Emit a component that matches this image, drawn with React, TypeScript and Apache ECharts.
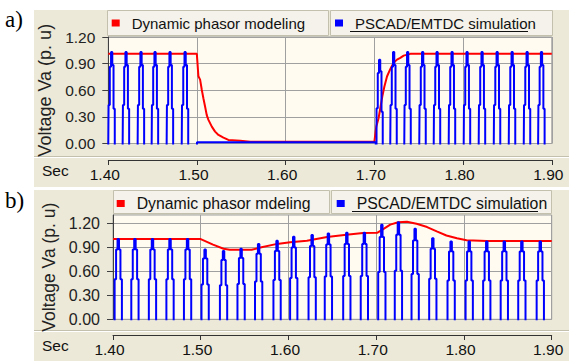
import React, { useEffect, useRef } from "react";
import * as echarts from "echarts";

// ---------- Data ----------
// Panel a) dynamic phasor model (red): time (s) / voltage (p.u)
const RED_A_T = [1.4, 1.4998, 1.5016, 1.5035, 1.5054, 1.5072, 1.5091, 1.511, 1.5129, 1.5167, 1.5204, 1.5242, 1.5298, 1.5354, 1.5487, 1.56, 1.7, 1.7021, 1.7047, 1.7067, 1.7089, 1.7112, 1.7142, 1.718, 1.7217, 1.7255, 1.7292, 1.733, 1.7405, 1.9];
const RED_A_V = [1.01, 1.01, 0.757, 0.72, 0.606, 0.51, 0.417, 0.32, 0.266, 0.19, 0.134, 0.096, 0.066, 0.04, 0.032, 0.02, 0.02, 0.19, 0.285, 0.4, 0.53, 0.64, 0.755, 0.84, 0.91, 0.945, 0.965, 0.99, 1.01, 1.01];

// Panel a) PSCAD/EMTDC (blue): peak time and peak value of every visible half-wave
const BLUE_A_PEAK_T = [1.4038, 1.42, 1.4369, 1.4527, 1.4696, 1.4866, 1.7059, 1.7217, 1.7375, 1.7544, 1.7707, 1.7876, 1.8045, 1.8214, 1.8384, 1.8553, 1.8722, 1.8884];
const BLUE_A_PEAK_V = [1.03, 1.03, 1.03, 1.03, 1.03, 1.03, 0.945, 1.03, 1.03, 1.03, 1.03, 1.03, 1.03, 1.03, 1.03, 1.03, 1.03, 1.03];
// sampled half-wave shape of panel a (offset in ms from the peak, level relative to the peak)
const BLUE_A_SHAPE_MS = [-4.2, -2.8, -1.4, 0, 1.4, 2.8, 4.2, 8.3];
const BLUE_A_SHAPE_LV = [-0.5, 0.42, 0.84, 1.0, 0.86, 0.38, -0.5, -1.0];
// fault interval of panel a where the blue trace lies on zero
const BLUE_A_FAULT_T = [1.4995, 1.5005, 1.7015];
const BLUE_A_FAULT_V = [-1, 0.015, 0.015];

// Panel b) dynamic phasor model (red)
const RED_B_T = [1.4, 1.5, 1.514, 1.526, 1.533, 1.558, 1.568, 1.587, 1.602, 1.621, 1.644, 1.666, 1.685, 1.701, 1.708, 1.716, 1.725, 1.735, 1.746, 1.758, 1.769, 1.78, 1.792, 1.803, 1.826, 1.9];
const RED_B_V = [1.0, 1.0, 0.93, 0.88, 0.866, 0.866, 0.895, 0.94, 0.96, 0.98, 1.025, 1.054, 1.075, 1.078, 1.125, 1.18, 1.21, 1.215, 1.19, 1.15, 1.095, 1.045, 1.01, 0.985, 0.975, 0.975];

// Panel b) PSCAD/EMTDC (blue)
const BLUE_B_PEAK_T = [1.406, 1.425, 1.445, 1.465, 1.485, 1.505, 1.526, 1.546, 1.566, 1.587, 1.606, 1.627, 1.6455, 1.6665, 1.6865, 1.7064, 1.7253, 1.7444, 1.7645, 1.7854, 1.806, 1.826, 1.846, 1.866, 1.887];
const BLUE_B_PEAK_V = [1.0, 1.0, 1.0, 1.0, 1.0, 0.87, 0.85, 0.88, 0.94, 0.98, 1.03, 1.05, 1.07, 1.08, 1.08, 1.18, 1.21, 1.13, 1.01, 0.97, 0.97, 0.97, 0.97, 0.97, 0.97];
const BLUE_B_SHAPE_MS = [-5.0, -3.3, -1.65, 0, 1.65, 3.3, 5.0, 10.0];
const BLUE_B_SHAPE_LV = [-0.5, 0.5, 0.87, 1.0, 0.87, 0.5, -0.5, -1.0];

// Axis ticks
const X_TICKS = [1.4, 1.5, 1.6, 1.7, 1.8, 1.9];
const Y_TICKS_A = [0, 0.3, 0.6, 0.9, 1.2];
const Y_TICKS_B = [0, 0.3, 0.6, 0.9, 1.2];

const NAME_RED_A = "Dynamic phasor modeling";
const NAME_RED_B = "Dynamic phasor mdeling";
const NAME_BLUE = "PSCAD/EMTDC simulation";
const Y_NAME = "Voltage Va (p. u)";

// ---------- helpers ----------
const zip = (t: number[], v: number[]) => t.map((x, i) => [x, v[i]]);

function buildPulses(peakT: number[], peakV: number[], shapeMs: number[], shapeLv: number[]) {
  const pts: number[][] = [];
  peakT.forEach((t, i) => {
    shapeMs.forEach((ms, j) => pts.push([t + ms / 1000, peakV[i] * shapeLv[j]]));
  });
  return pts;
}

const FONT = "Liberation Sans, Arial, sans-serif";
const GRAY = "#ECE9D8";
const CELL = "#F4F2EA";
const PLOT_BG = "#FFFBF0";
const GRID_LINE = "#A0A0A0";

export default function App() {
  const ref = useRef<HTMLDivElement>(null);

  useEffect(() => {
    if (!ref.current) return;
    const chart = echarts.init(ref.current, undefined, { renderer: "svg" });

    const redA = zip(RED_A_T, RED_A_V);
    const redB = zip(RED_B_T, RED_B_V);
    const blueAll = buildPulses(BLUE_A_PEAK_T, BLUE_A_PEAK_V, BLUE_A_SHAPE_MS, BLUE_A_SHAPE_LV)
      .concat(zip(BLUE_A_FAULT_T, BLUE_A_FAULT_V));
    blueAll.sort((p, q) => p[0] - q[0]);
    const blueB = buildPulses(BLUE_B_PEAK_T, BLUE_B_PEAK_V, BLUE_B_SHAPE_MS, BLUE_B_SHAPE_LV);

    const xAxisBase = (grid: number, offset: number, fs: number) => ({
      gridIndex: grid,
      type: "value",
      min: 1.4,
      max: 1.9,
      interval: 0.1,
      offset,
      axisLine: { show: true, onZero: false, lineStyle: { color: "#333", width: 1 } },
      axisTick: { show: true, length: 5, lineStyle: { color: "#333" }, customValues: X_TICKS },
      axisLabel: {
        customValues: X_TICKS,
        formatter: (v: number) => v.toFixed(2),
        fontSize: fs,
        fontFamily: FONT,
        color: "#111",
        margin: 6,
        padding: [0, 7, 0, 0],
      },
      splitLine: { show: true, lineStyle: { color: GRID_LINE, width: 1 } },
    });

    const yAxisBase = (grid: number, max: number, ticks: number[], fs: number, gap: number) => ({
      gridIndex: grid,
      type: "value",
      min: 0,
      max,
      interval: 0.3,
      name: Y_NAME,
      nameLocation: "middle",
      nameGap: gap,
      nameTextStyle: { fontSize: grid === 0 ? 18 : 17.5, fontFamily: FONT, color: "#222" },
      axisLine: { show: true, onZero: false, lineStyle: { color: "#404040", width: 1 } },
      axisTick: { show: true, length: 6, lineStyle: { color: "#404040" }, customValues: ticks },
      axisLabel: {
        customValues: ticks,
        formatter: (v: number) => v.toFixed(2),
        fontSize: fs,
        fontFamily: FONT,
        color: "#222",
        margin: 13,
      },
      splitLine: { show: true, lineStyle: { color: GRID_LINE, width: 1 } },
    });

    const legendBase = (name: string, left: number, top: number, fs: number) => ({
      data: [name],
      left,
      top,
      padding: 0,
      icon: "rect",
      itemWidth: 8,
      itemHeight: 7,
      selectedMode: false,
      textStyle: { fontSize: fs, fontFamily: FONT, color: "#111", padding: [0, 0, 0, 7] },
    });

    const option: any = {
      animation: false,
      backgroundColor: "#ffffff",
      grid: [
        { left: 108.3, top: 37, width: 443.5, height: 106.5, show: true, backgroundColor: PLOT_BG, borderColor: GRID_LINE, borderWidth: 1 },
        { left: 113, top: 215, width: 438.7, height: 104.3, show: true, backgroundColor: PLOT_BG, borderColor: GRID_LINE, borderWidth: 1 },
      ],
      xAxis: [xAxisBase(0, 16.5, 15.5), xAxisBase(1, 15.7, 15.5)],
      yAxis: [yAxisBase(0, 1.2, Y_TICKS_A, 15.5, 50), yAxisBase(1, 1.3, Y_TICKS_B, 16, 54)],
      legend: [
        legendBase(NAME_RED_A, 111.7, 15.5, 15),
        legendBase(NAME_BLUE, 335, 15.5, 15),
        legendBase(NAME_RED_B, 116.7, 195.5, 15.8),
        legendBase(NAME_BLUE, 336.7, 195.5, 15.8),
      ],
      series: [
        {
          type: "line", name: NAME_RED_A, xAxisIndex: 0, yAxisIndex: 0, data: redA,
          symbol: "none", lineStyle: { color: "#FF0000", width: 2 }, itemStyle: { color: "#FF0000" }, z: 2,
        },
        {
          type: "line", name: NAME_BLUE, xAxisIndex: 0, yAxisIndex: 0, data: blueAll, step: "middle",
          symbol: "none", lineStyle: { color: "#0000FF", width: 2 }, itemStyle: { color: "#0000FF" }, z: 3,
        },
        {
          type: "line", name: NAME_RED_B, xAxisIndex: 1, yAxisIndex: 1, data: redB,
          symbol: "none", lineStyle: { color: "#FF0000", width: 2 }, itemStyle: { color: "#FF0000" }, z: 2,
        },
        {
          type: "line", name: NAME_BLUE, xAxisIndex: 1, yAxisIndex: 1, data: blueB, step: "middle",
          symbol: "none", lineStyle: { color: "#0000FF", width: 2 }, itemStyle: { color: "#0000FF" }, z: 3,
        },
      ],
      graphic: [
        // panel backgrounds
        { type: "rect", z: -20, shape: { x: 34, y: 10, width: 535, height: 177 }, style: { fill: GRAY } },
        { type: "rect", z: -20, shape: { x: 34, y: 190, width: 535, height: 171 }, style: { fill: GRAY } },
        // legend cells a
        { type: "rect", z: -15, shape: { x: 107.5, y: 10.5, width: 221, height: 25 }, style: { fill: CELL, stroke: "#C4C0AE", lineWidth: 1 } },
        { type: "rect", z: -15, shape: { x: 330.5, y: 10.5, width: 222, height: 25 }, style: { fill: CELL, stroke: "#C4C0AE", lineWidth: 1 } },
        // legend cells b
        { type: "rect", z: -15, shape: { x: 113.5, y: 190.5, width: 216, height: 23 }, style: { fill: CELL, stroke: "#C4C0AE", lineWidth: 1 } },
        { type: "rect", z: -15, shape: { x: 331.5, y: 190.5, width: 220, height: 23 }, style: { fill: CELL, stroke: "#C4C0AE", lineWidth: 1 } },
        // underlines
        { type: "line", z: 5, shape: { x1: 350, y1: 31.5, x2: 528, y2: 31.5 }, style: { stroke: "#111", lineWidth: 1 } },
        { type: "line", z: 5, shape: { x1: 352, y1: 211.5, x2: 538, y2: 211.5 }, style: { stroke: "#111", lineWidth: 1 } },
        // separators above the x-axis bars
        { type: "line", z: -15, shape: { x1: 34, y1: 156.5, x2: 569, y2: 156.5 }, style: { stroke: "#C4C0AE", lineWidth: 1 } },
        { type: "line", z: -15, shape: { x1: 34, y1: 157.5, x2: 569, y2: 157.5 }, style: { stroke: "#FFFFFF", lineWidth: 1 } },
        { type: "line", z: -15, shape: { x1: 34, y1: 330.5, x2: 569, y2: 330.5 }, style: { stroke: "#C4C0AE", lineWidth: 1 } },
        { type: "line", z: -15, shape: { x1: 34, y1: 331.5, x2: 569, y2: 331.5 }, style: { stroke: "#FFFFFF", lineWidth: 1 } },
        // "Sec" labels
        { type: "text", x: 42, y: 170.5, style: { text: "Sec", font: `15.5px ${FONT}`, fill: "#111", textVerticalAlign: "middle" } },
        { type: "text", x: 42, y: 345, style: { text: "Sec", font: `15.5px ${FONT}`, fill: "#111", textVerticalAlign: "middle" } },
        // panel tags
        { type: "text", x: 5, y: 30.5, style: { text: "a)", font: `23px "Liberation Serif", "Times New Roman", serif`, fill: "#000", textVerticalAlign: "bottom" } },
        { type: "text", x: 5, y: 211.5, style: { text: "b)", font: `23px "Liberation Serif", "Times New Roman", serif`, fill: "#000", textVerticalAlign: "bottom" } },
      ],
    };

    chart.setOption(option);
    return () => chart.dispose();
  }, []);

  return <div ref={ref} style={{ position: "absolute", left: 0, top: 0, width: 569, height: 361 }} />;
}
